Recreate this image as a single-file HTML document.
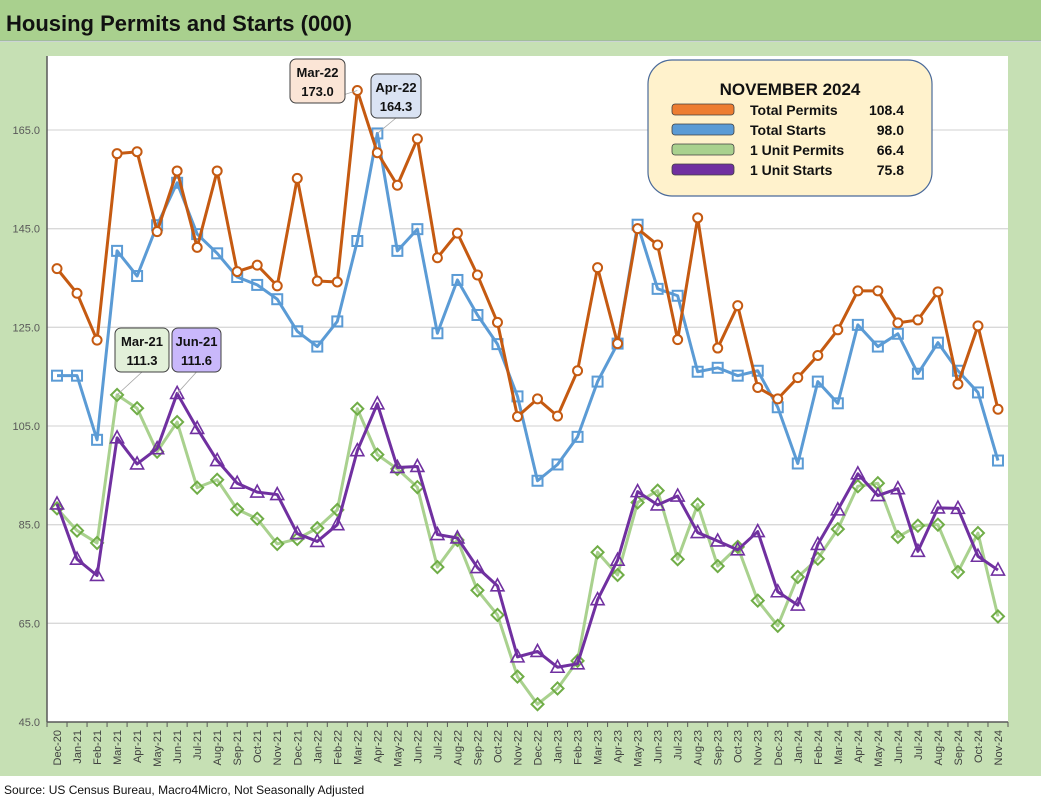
<!DOCTYPE html>
<html><head><meta charset="utf-8"><style>
body{margin:0;background:#fff;}
svg text{font-family:"Liberation Sans",sans-serif;}
</style></head><body>
<svg id="c" width="1041" height="806" xmlns="http://www.w3.org/2000/svg">
<rect x="0" y="0" width="1041" height="41" fill="#a9d08e"/>
<line x1="0" y1="41" x2="1041" y2="41" stroke="#9aa" stroke-width="1"/>
<text x="6" y="31" font-size="22" font-weight="bold" fill="#111">Housing Permits and Starts (000)</text>
<rect x="0" y="42" width="1041" height="734" fill="#c6e0b4"/>
<rect x="47" y="56" width="961" height="666" fill="#fff"/>
<g id="grid"></g><g id="axes"></g><g id="series"></g><g id="ann"></g>
<text x="4" y="794" font-size="12" fill="#111">Source: US Census Bureau, Macro4Micro, Not Seasonally Adjusted</text>
</svg>
<script>
const categories=["Dec-20","Jan-21","Feb-21","Mar-21","Apr-21","May-21","Jun-21","Jul-21","Aug-21","Sep-21","Oct-21","Nov-21","Dec-21","Jan-22","Feb-22","Mar-22","Apr-22","May-22","Jun-22","Jul-22","Aug-22","Sep-22","Oct-22","Nov-22","Dec-22","Jan-23","Feb-23","Mar-23","Apr-23","May-23","Jun-23","Jul-23","Aug-23","Sep-23","Oct-23","Nov-23","Dec-23","Jan-24","Feb-24","Mar-24","Apr-24","May-24","Jun-24","Jul-24","Aug-24","Sep-24","Oct-24","Nov-24"];
const totalPermits=[136.9,131.9,122.4,160.2,160.6,144.4,156.7,141.2,156.7,136.3,137.6,133.4,155.2,134.4,134.2,173.0,160.4,153.8,163.2,139.1,144.1,135.6,126.0,106.9,110.5,107.0,116.2,137.1,121.7,145.0,141.7,122.5,147.2,120.8,129.4,112.8,110.5,114.8,119.3,124.5,132.4,132.4,125.9,126.5,132.2,113.5,125.3,108.4];
const totalStarts=[115.2,115.2,102.2,140.5,135.4,145.7,154.3,143.9,140.0,135.2,133.6,130.7,124.2,121.1,126.2,142.5,164.3,140.5,144.9,123.8,134.6,127.5,121.6,111.0,93.9,97.2,102.8,114.0,121.7,145.8,132.8,131.4,116.0,116.8,115.2,116.2,108.8,97.4,114.0,109.6,125.5,121.1,123.7,115.6,121.9,116.2,111.8,98.0];
const unitPermits=[88.3,83.8,81.3,111.3,108.6,99.8,105.8,92.5,94.1,88.1,86.2,81.1,82.1,84.3,88.0,108.5,99.2,96.3,92.6,76.4,81.9,71.7,66.7,54.2,48.6,51.8,57.4,79.4,74.8,89.5,91.9,78.0,89.1,76.6,80.5,69.6,64.5,74.4,78.1,84.1,92.8,93.4,82.5,84.8,85.0,75.4,83.3,66.4];
const unitStarts=[89.2,78.0,74.7,102.6,97.3,100.4,111.6,104.5,98.0,93.4,91.6,91.1,83.2,81.6,85.0,100.0,109.5,96.6,96.8,83.0,82.3,76.3,72.6,58.2,59.3,56.1,56.8,69.8,77.8,91.7,89.0,90.8,83.4,81.7,79.9,83.6,71.4,68.7,81.0,88.0,95.3,90.9,92.3,79.6,88.4,88.3,78.6,75.8];
const yTicks=[45,65,85,105,125,145,165];
const NS="http://www.w3.org/2000/svg";
const L=47,R=1008,T=56,B=722,YMIN=45,YMAX=180;
const bw=(R-L)/categories.length;
const xs=i=>L+bw*(i+0.5);
const ys=v=>B-(v-YMIN)/(YMAX-YMIN)*(B-T);
function mk(tag,at,parent){const e=document.createElementNS(NS,tag);for(const k in at)e.setAttribute(k,at[k]);parent.appendChild(e);return e;}
const grid=document.getElementById('grid'),axes=document.getElementById('axes'),ser=document.getElementById('series'),ann=document.getElementById('ann');
yTicks.forEach(t=>{
  if(t>YMIN){const g=mk('line',{x1:L,x2:R,y1:ys(t),y2:ys(t),stroke:'#d9d9d9','stroke-width':1.3},grid);
  
  }
  const tx=mk('text',{x:40,y:ys(t)+4,'font-size':11,'text-anchor':'end',fill:'#595959'},axes);tx.textContent=t.toFixed(1);
  
  
});
const ya=mk('line',{x1:L,x2:L,y1:T,y2:B,stroke:'#595959','stroke-width':1.5},axes);


const xa=mk('line',{x1:L,x2:R,y1:B,y2:B,stroke:'#595959','stroke-width':1.5},axes);


for(let i=0;i<=categories.length;i++){mk('line',{x1:L+bw*i,x2:L+bw*i,y1:B,y2:B+5,stroke:'#595959'},axes);}
categories.forEach((c,i)=>{
  const x=xs(i)+4,y=B+8;
  const t=mk('text',{x:x,y:y,'font-size':11,'text-anchor':'end',fill:'#404040',transform:`rotate(-90 ${x} ${y})`},axes);t.textContent=c;
  
  
});
function series(vals,color,mcolor,marker,name){
  const g=mk('g',{},ser);
  
  
  const pts=vals.map((v,i)=>xs(i)+','+ys(v)).join(' ');
  const pl=mk('polyline',{points:pts,fill:'none',stroke:color,'stroke-width':3,'stroke-linejoin':'round'},g);
  
  
  vals.forEach((v,i)=>{
    const x=xs(i),y=ys(v);let m;
    if(marker==='circle')m=mk('circle',{cx:x,cy:y,r:4.5,fill:'#fff',stroke:mcolor,'stroke-width':2},g);
    else if(marker==='square')m=mk('rect',{x:x-5,y:y-5,width:10,height:10,fill:'none',stroke:mcolor,'stroke-width':2},g);
    else if(marker==='diamond')m=mk('polygon',{points:`${x},${y-6} ${x+6},${y} ${x},${y+6} ${x-6},${y}`,fill:'none',stroke:mcolor,'stroke-width':2},g);
    else m=mk('polygon',{points:`${x},${y-7} ${x+6.5},${y+5} ${x-6.5},${y+5}`,fill:'none',stroke:mcolor,'stroke-width':1.6},g);
    
    
  });
}
series(unitPermits,'#a9d18e','#70ad47','diamond','one-unit-permits');
series(unitStarts,'#7030a0','#7030a0','triangle','one-unit-starts');
series(totalStarts,'#5b9bd5','#5b9bd5','square','total-starts');
series(totalPermits,'#c55a11','#c55a11','circle','total-permits');
function callout(idx,vals,bx,by,w,fill,name){
  const x=xs(idx),y=ys(vals[idx]);
  mk('line',{x1:bx+w/2,y1:by+44,x2:x,y2:y,stroke:'#a6a6a6','stroke-width':0.8},ann);
  const r=mk('rect',{x:bx,y:by,width:w,height:44,rx:6,fill:fill,stroke:'#404040','stroke-width':1},ann);
  
  
  const t1=mk('text',{x:bx+w/2,y:by+18,'font-size':13,'font-weight':'bold','text-anchor':'middle',fill:'#111'},ann);t1.textContent=categories[idx];
  const t2=mk('text',{x:bx+w/2,y:by+37,'font-size':13,'font-weight':'bold','text-anchor':'middle',fill:'#111'},ann);t2.textContent=vals[idx].toFixed(1);
}
callout(15,totalPermits,290,59,55,'#fbe5d6','callout-mar-22');
callout(16,totalStarts,371,74,50,'#dae3f3','callout-apr-22');
callout(3,unitPermits,115,328,54,'#e2f0d9','callout-mar-21');
callout(6,unitStarts,172,328,49,'#c9b8fb','callout-jun-21');
// legend
const lg=mk('g',{},ann);


mk('rect',{x:648,y:60,width:284,height:136,rx:24,fill:'#fff2cc',stroke:'#4a6a9a','stroke-width':1.2},lg);
const lt=mk('text',{x:790,y:95,'font-size':17,'font-weight':'bold','text-anchor':'middle',fill:'#111'},lg);lt.textContent='NOVEMBER 2024';
const names=['Total Permits','Total Starts','1 Unit Permits','1 Unit Starts'];
const cols=['#ed7d31','#5b9bd5','#a9d18e','#7030a0'];
const lastVals=[totalPermits,totalStarts,unitPermits,unitStarts].map(a=>a[a.length-1]);
names.forEach((n,i)=>{
  const y=110+i*20;
  const sw=mk('rect',{x:672,y:y-6,width:62,height:11,rx:3,fill:cols[i],stroke:'#404040','stroke-width':0.8},lg);
  
  
  const t=mk('text',{x:750,y:y+5,'font-size':14,'font-weight':'bold',fill:'#111'},lg);t.textContent=n;
  
  
  const v=mk('text',{x:904,y:y+5,'font-size':14,'font-weight':'bold','text-anchor':'end',fill:'#111'},lg);v.textContent=lastVals[i].toFixed(1);
});
</script>
</body></html>
